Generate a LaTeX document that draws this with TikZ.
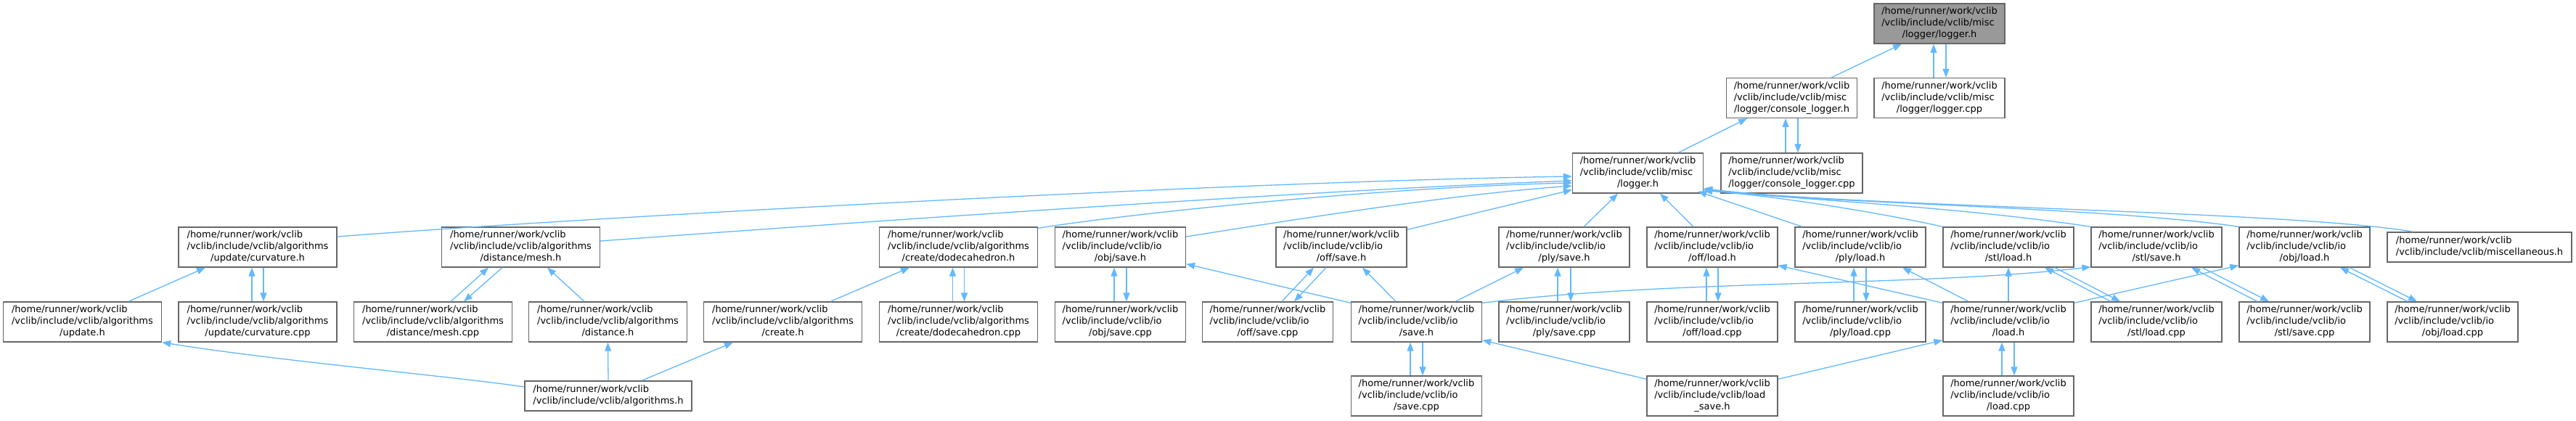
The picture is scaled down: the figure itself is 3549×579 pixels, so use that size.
\documentclass[tikz,border=0pt]{standalone}
\usepackage{fontspec}
\setmainfont{DejaVu Sans}
\usetikzlibrary{arrows.meta}
\definecolor{edgeblue}{HTML}{63B8FF}
\definecolor{boxline}{HTML}{666666}
\definecolor{targetfill}{HTML}{999999}
\newcommand{\nthree}[3]{\begin{tabular}{@{}l@{}}#1\\#2\\\multicolumn{1}{@{}c@{}}{#3}\end{tabular}}
\newcommand{\ntwo}[2]{\begin{tabular}{@{}l@{}}#1\\\multicolumn{1}{@{}c@{}}{#2}\end{tabular}}
\newcommand{\hp}{/home/runner/work/vclib}
\newcommand{\io}{/vclib/include/vclib/io}
\newcommand{\alg}{/vclib/include/vclib/algorithms}
\newcommand{\misc}{/vclib/include/vclib/misc}
\begin{document}
\begin{tikzpicture}[x=1pt,y=-1pt,
  fbox/.style={draw=boxline, fill=white, line width=1.3pt, inner sep=0pt,
    minimum height=55pt, font=\fontsize{13}{16}\selectfont},
  iob/.style={fbox, minimum width=180pt},
  algb/.style={fbox, minimum width=218pt},
  inc/.style={draw=edgeblue, line width=1.3pt, -{Triangle[length=12pt,width=9pt]}}]
\fill[white] (0,0) rectangle (3549,579);
\useasboundingbox (0,0) rectangle (3549,579);

% row 0-2
\node[iob, fill=targetfill] (A) at (2672,32.5) {\nthree{\hp}{\misc}{/logger/logger.h}};
\node[iob] (B) at (2468.5,135) {\nthree{\hp}{\misc}{/logger/console\_logger.h}};
\node[iob] (C) at (2672,135) {\nthree{\hp}{\misc}{/logger/logger.cpp}};
\node[iob] (D) at (2256.5,238.5) {\nthree{\hp}{\misc}{/logger.h}};
\node[iob, minimum width=195pt] (E) at (2468.5,238.5) {\nthree{\hp}{\misc}{/logger/console\_logger.cpp}};

% row 3
\node[algb] (F) at (355,340.5) {\nthree{\hp}{\alg}{/update/curvature.h}};
\node[algb] (G) at (717.5,340.5) {\nthree{\hp}{\alg}{/distance/mesh.h}};
\node[algb] (H) at (1320.5,340.5) {\nthree{\hp}{\alg}{/create/dodecahedron.h}};
\node[iob] (I) at (1543.5,340.5) {\nthree{\hp}{\io}{/obj/save.h}};
\node[iob] (J) at (1848,340.5) {\nthree{\hp}{\io}{/off/save.h}};
\node[iob] (K) at (2155,340.5) {\nthree{\hp}{\io}{/ply/save.h}};
\node[iob] (L) at (2359,340.5) {\nthree{\hp}{\io}{/off/load.h}};
\node[iob] (M) at (2563,340.5) {\nthree{\hp}{\io}{/ply/load.h}};
\node[iob] (N) at (2767,340.5) {\nthree{\hp}{\io}{/stl/load.h}};
\node[iob] (O) at (2971,340.5) {\nthree{\hp}{\io}{/stl/save.h}};
\node[iob] (P) at (3175,340.5) {\nthree{\hp}{\io}{/obj/load.h}};
\node[fbox, minimum width=254pt, minimum height=41pt] (Q) at (3416,340.5) {\ntwo{\hp}{/vclib/include/vclib/miscellaneous.h}};

% row 4
\node[algb] (R) at (113.5,443.5) {\nthree{\hp}{\alg}{/update.h}};
\node[algb] (S) at (355,443.5) {\nthree{\hp}{\alg}{/update/curvature.cpp}};
\node[algb] (T) at (596.5,443.5) {\nthree{\hp}{\alg}{/distance/mesh.cpp}};
\node[algb] (U) at (837.5,443.5) {\nthree{\hp}{\alg}{/distance.h}};
\node[algb] (V) at (1078.5,443.5) {\nthree{\hp}{\alg}{/create.h}};
\node[algb] (W) at (1320.5,443.5) {\nthree{\hp}{\alg}{/create/dodecahedron.cpp}};
\node[iob] (X) at (1543.5,443.5) {\nthree{\hp}{\io}{/obj/save.cpp}};
\node[iob] (Y) at (1746.5,443.5) {\nthree{\hp}{\io}{/off/save.cpp}};
\node[iob] (Z) at (1951.5,443.5) {\nthree{\hp}{\io}{/save.h}};
\node[iob] (AA) at (2155,443.5) {\nthree{\hp}{\io}{/ply/save.cpp}};
\node[iob] (AB) at (2359,443.5) {\nthree{\hp}{\io}{/off/load.cpp}};
\node[iob] (AC) at (2563,443.5) {\nthree{\hp}{\io}{/ply/load.cpp}};
\node[iob] (AD) at (2767,443.5) {\nthree{\hp}{\io}{/load.h}};
\node[iob] (AE) at (2971,443.5) {\nthree{\hp}{\io}{/stl/load.cpp}};
\node[iob] (AF) at (3175,443.5) {\nthree{\hp}{\io}{/stl/save.cpp}};
\node[iob] (AG) at (3379,443.5) {\nthree{\hp}{\io}{/obj/load.cpp}};

% row 5
\node[fbox, minimum width=230pt, minimum height=41pt] (AH) at (838,545.5) {\ntwo{\hp}{/vclib/include/vclib/algorithms.h}};
\node[iob] (AI) at (1951.5,545.5) {\nthree{\hp}{\io}{/save.cpp}};
\node[iob] (AJ) at (2359,545.5) {\nthree{\hp}{/vclib/include/vclib/load}{\_save.h}};
\node[iob] (AK) at (2767,545.5) {\nthree{\hp}{\io}{/load.cpp}};

% edges top
\draw[inc] ([xshift=54.5pt]B.north) -- ([xshift=-52pt]A.south);
\draw[inc] ([xshift=-8pt]C.north) -- ([xshift=-8pt]A.south);
\draw[inc] ([xshift=9pt]A.south) -- ([xshift=9pt]C.north);
\draw[inc] ([xshift=55.5pt]D.north) -- ([xshift=-61.5pt]B.south);
\draw[inc] ([xshift=-8.5pt]E.north) -- ([xshift=-8.5pt]B.south);
\draw[inc] ([xshift=8.5pt]B.south) -- ([xshift=8.5pt]E.north);

% row 3 -> D
\draw[inc] ([yshift=14.5pt]F.east) .. controls (800,300) and (1700,250) .. ([yshift=-4.5pt]D.west);
\draw[inc] ([yshift=8.5pt]G.east) .. controls (1100,312) and (1800,262) .. ([yshift=-10.5pt]D.west);
\draw[inc] ([yshift=-2pt]H.north east) .. controls (1550,295) and (1900,258) .. ([yshift=-13.5pt]D.west);
\draw[inc] ([yshift=14.5pt]I.east) .. controls (1800,300) and (2000,268) .. ([yshift=-17.5pt]D.west);
\draw[inc] ([yshift=-4pt]J.north east) -- ([yshift=-23pt]D.west);
\draw[inc] ([xshift=27pt]K.north) -- ([xshift=-27.5pt]D.south);
\draw[inc] ([xshift=-26pt]L.north) -- ([xshift=30.5pt]D.south);
\draw[inc] ([xshift=-80pt]M.north) -- ([xshift=-8pt,yshift=3pt]D.south east);
\draw[inc] (N.north west) .. controls (2600,295) and (2450,270) .. ([yshift=4pt]D.south east);
\draw[inc] (O.north west) .. controls (2700,285) and (2480,275) .. ([yshift=5pt]D.south east);
\draw[inc] (P.north west) .. controls (2900,285) and (2500,280) .. ([yshift=6pt]D.south east);
\draw[inc] ([xshift=-91pt]Q.north) .. controls (3150,290) and (2550,285) .. ([yshift=7pt]D.south east);

% row 4 -> row 3
\draw[inc] ([xshift=63.5pt]R.north) -- ([xshift=-72pt]F.south);
\draw[inc] ([xshift=-8pt]S.north) -- ([xshift=-8pt]F.south);
\draw[inc] ([xshift=8pt]F.south) -- ([xshift=8pt]S.north);
\draw[inc] ([xshift=24.5pt]T.north) -- ([xshift=-44.5pt]G.south);
\draw[inc] ([xshift=-25.5pt]G.south) -- ([xshift=42.5pt]T.north);
\draw[inc] ([xshift=-32.5pt]U.north) -- ([xshift=36.5pt]G.south);
\draw[inc] ([xshift=65.5pt]V.north) -- ([xshift=-67.5pt]H.south);
\draw[inc] ([xshift=-8pt]W.north) -- ([xshift=-8pt]H.south);
\draw[inc] ([xshift=8pt]H.south) -- ([xshift=8pt]W.north);
\draw[inc] ([xshift=-8.5pt]X.north) -- ([xshift=-8.5pt]I.south);
\draw[inc] ([xshift=8.5pt]I.south) -- ([xshift=8.5pt]X.north);
\draw[inc] ([xshift=19.5pt]Y.north) -- ([xshift=-38pt]J.south);
\draw[inc] ([xshift=-21pt]J.south) -- ([xshift=36.5pt]Y.north);
\draw[inc] ([yshift=-2pt]Z.north west) -- ([yshift=5pt]I.south east);
\draw[inc] ([xshift=-28.5pt]Z.north) -- ([xshift=29pt]J.south);
\draw[inc] ([xshift=53.5pt]Z.north) -- ([xshift=-56pt]K.south);
\draw[inc] ([yshift=-2pt]Z.north east) .. controls (2300,385) and (2650,395) .. ([yshift=1pt]O.south west);
\draw[inc] ([xshift=-9pt]AA.north) -- ([xshift=-9pt]K.south);
\draw[inc] ([xshift=9pt]K.south) -- ([xshift=9pt]AA.north);
\draw[inc] ([xshift=-8pt]AB.north) -- ([xshift=-8pt]L.south);
\draw[inc] ([xshift=8pt]L.south) -- ([xshift=8pt]AB.north);
\draw[inc] ([xshift=-9pt]AC.north) -- ([xshift=-9pt]M.south);
\draw[inc] ([xshift=8pt]M.south) -- ([xshift=8pt]AC.north);
\draw[inc] ([yshift=-2pt]AD.north west) -- ([yshift=3pt]L.south east);
\draw[inc] ([xshift=-55pt]AD.north) -- ([xshift=58pt]M.south);
\draw[inc] (AD.north) -- (N.south);
\draw[inc] ([yshift=-2pt]AD.north east) -- ([yshift=3pt]P.south west);
\draw[inc] ([xshift=-63pt]AE.north) -- ([xshift=50pt]N.south);
\draw[inc] ([xshift=64pt]N.south) -- ([xshift=-50pt]AE.north);
\draw[inc] ([xshift=-65pt]AF.north) -- ([xshift=48pt]O.south);
\draw[inc] ([xshift=63pt]O.south) -- ([xshift=-49pt]AF.north);
\draw[inc] ([xshift=-62pt]AG.north) -- ([xshift=49pt]P.south);
\draw[inc] ([xshift=62pt]P.south) -- ([xshift=-49pt]AG.north);

% row 5 -> row 4
\draw[inc] ([yshift=12.5pt]AH.west) .. controls (620,518) and (380,497) .. (R.south east);
\draw[inc] (AH.north) -- (U.south);
\draw[inc] ([xshift=46pt]AH.north) -- ([xshift=-68.5pt]V.south);
\draw[inc] ([xshift=-8.5pt]AI.north) -- ([xshift=-8.5pt]Z.south);
\draw[inc] ([xshift=8.5pt]Z.south) -- ([xshift=8.5pt]AI.north);
\draw[inc] ([yshift=-5pt]AJ.north west) -- ([yshift=3pt]Z.south east);
\draw[inc] ([yshift=-5pt]AJ.north east) -- ([yshift=3pt]AD.south west);
\draw[inc] ([xshift=-9pt]AK.north) -- ([xshift=-9pt]AD.south);
\draw[inc] ([xshift=8pt]AD.south) -- ([xshift=8pt]AK.north);
\end{tikzpicture}
\end{document}
